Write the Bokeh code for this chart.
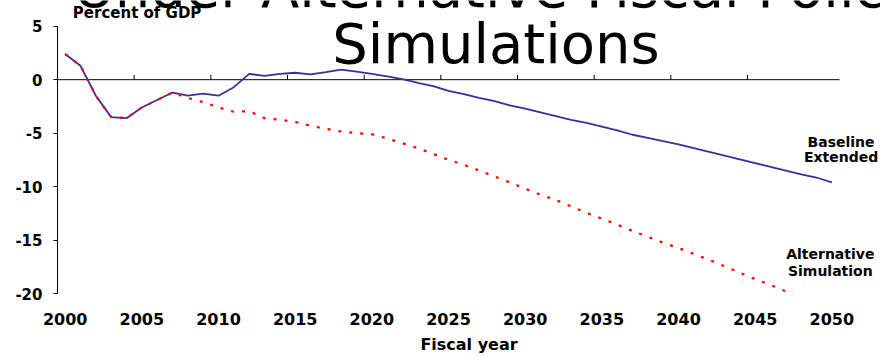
from bokeh.plotting import figure
from bokeh.models import Range1d, FixedTicker, Label
from bokeh.embed import file_html
from bokeh.resources import INLINE

# ---------------- data ----------------
years = list(range(2000, 2051))
baseline_extended = [
    2.4, 1.3, -1.5, -3.5, -3.6, -2.6, -1.9, -1.2, -1.5, -1.3,
    -1.5, -0.7, 0.55, 0.35, 0.55, 0.65, 0.5, 0.7, 0.95, 0.75,
    0.55, 0.3, 0.05, -0.3, -0.6, -1.05, -1.35, -1.7, -2.0, -2.4,
    -2.7, -3.05, -3.4, -3.75, -4.05, -4.4, -4.75, -5.15, -5.45, -5.75,
    -6.05, -6.4, -6.75, -7.1, -7.45, -7.8, -8.15, -8.5, -8.85, -9.15,
    -9.6,
]
alt_years = list(range(2000, 2049))
alternative_simulation = [
    2.4, 1.3, -1.5, -3.5, -3.6, -2.6, -1.9, -1.2, -1.7, -2.1,
    -2.6, -3.0, -2.95, -3.6, -3.75, -3.95, -4.3, -4.6, -4.85, -5.0,
    -5.1, -5.5, -5.95, -6.4, -6.95, -7.5, -7.95, -8.5, -9.05, -9.6,
    -10.2, -10.75, -11.25, -11.85, -12.45, -13.0, -13.55, -14.15, -14.7, -15.25,
    -15.75, -16.3, -16.85, -17.45, -18.05, -18.65, -19.2, -19.8, -20.4,
]
x_tick_years = [2000, 2005, 2010, 2015, 2020, 2025, 2030, 2035, 2040, 2045, 2050]
y_ticks = [-20, -15, -10, -5, 0, 5]
y_tick_labels = ["-20", "-15", "-10", "-5", "0", "5"]
title_lines = ["Under Alternative Fiscal Policy", "Simulations"]
y_unit_label = "Percent of GDP"
x_axis_title = "Fiscal year"
series_labels = [["Baseline", "Extended"], ["Alternative", "Simulation"]]

FONT = "DejaVu Sans"

# axis extent (category edges) and value extent
x_lo, x_hi = years[0] - 0.5, years[-1] + 0.5
y_lo, y_hi = y_ticks[0], y_ticks[-1]

p = figure(
    width=880, height=356,
    # frame reaches the canvas top/right so outer texts are not clipped
    x_range=Range1d(x_lo, x_lo + (x_hi - x_lo) * 823 / 782),
    y_range=Range1d(y_lo, y_lo + (y_hi - y_lo) * 296 / 270),
    output_backend="svg", toolbar_location=None,
    min_border_left=57, min_border_right=0, min_border_top=0, min_border_bottom=60,
)
p.outline_line_color = None
p.xgrid.visible = False
p.ygrid.visible = False
p.background_fill_color = "white"
p.border_fill_color = "white"

# bottom axis: labels only
xa = p.xaxis[0]
xa.ticker = FixedTicker(ticks=x_tick_years)
xa.axis_line_color = None
xa.major_tick_line_color = None
xa.minor_tick_line_color = None
xa.major_label_text_font = FONT
xa.major_label_text_font_style = "bold"
xa.major_label_text_font_size = "16px"
xa.major_label_text_color = "black"
xa.major_label_standoff = 13
xa.axis_label = x_axis_title
xa.axis_label_text_font = FONT
xa.axis_label_text_font_style = "bold"
xa.axis_label_text_font_size = "16px"
xa.axis_label_text_color = "black"
xa.axis_label_standoff = 7

# left axis, limited to the value extent
ya = p.yaxis[0]
ya.ticker = FixedTicker(ticks=y_ticks)
ya.bounds = (y_lo, y_hi)
ya.major_label_overrides = {t: s for t, s in zip(y_ticks, y_tick_labels)}
ya.axis_line_color = "black"
ya.major_tick_line_color = "black"
ya.major_tick_out = 4
ya.major_tick_in = 0
ya.minor_tick_line_color = None
ya.major_label_text_font = FONT
ya.major_label_text_font_style = "bold"
ya.major_label_text_font_size = "15px"
ya.major_label_text_color = "black"
ya.major_label_standoff = 11

# zero line with category-boundary tick marks (pointing up)
p.segment(x0=[x_lo], y0=[0], x1=[x_hi], y1=[0], line_color="black", line_width=1)
bounds = [t - 0.5 for t in x_tick_years[:-1]]
p.segment(x0=bounds, y0=[0] * len(bounds), x1=bounds, y1=[0.45] * len(bounds),
          line_color="black", line_width=1)

# series
p.line(years, baseline_extended, line_color="#333399", line_width=1.8)
p.line(alt_years, alternative_simulation, line_color="#ff0000", line_width=2.2,
       line_dash="3 8")

# title (partly cut off at the top of the picture)
p.add_layout(Label(x=2028.1, y=8.6, text=title_lines[0], text_font=FONT,
                   text_font_size="56px", text_align="center",
                   text_baseline="alphabetic", text_color="black"))
p.add_layout(Label(x=2028.1, y=3.36, text=title_lines[1], text_font=FONT,
                   text_font_size="56px", text_align="center",
                   text_baseline="alphabetic", text_color="black"))

p.add_layout(Label(x=2000.5, y=6.21, text=y_unit_label, text_font=FONT,
                   text_font_size="15px", text_font_style="bold",
                   text_align="left", text_baseline="alphabetic",
                   text_color="black"))

label_pos = [[(2050.6, -5.83), (2050.6, -7.22)], [(2049.9, -16.33), (2049.9, -17.87)]]
for lines, poss in zip(series_labels, label_pos):
    for txt, (lx, ly) in zip(lines, poss):
        p.add_layout(Label(x=lx, y=ly, text=txt, text_font=FONT,
                           text_font_size="14px", text_font_style="bold",
                           text_align="center", text_baseline="alphabetic",
                           text_color="black"))

open("out.html", "w").write(file_html(p, INLINE))
